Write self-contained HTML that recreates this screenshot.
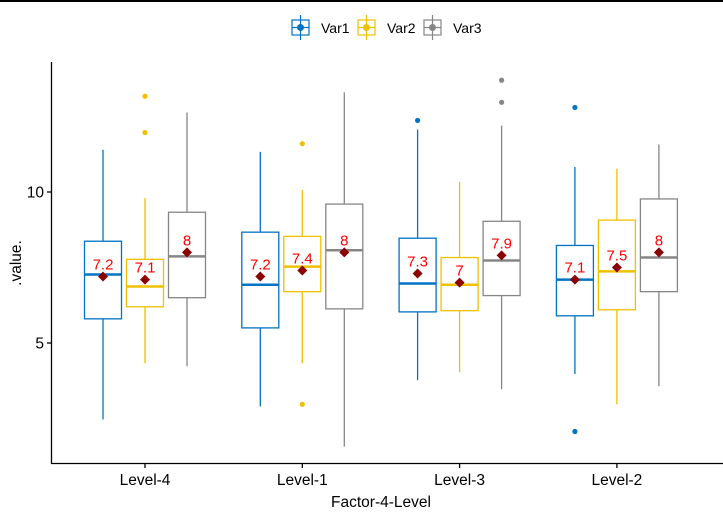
<!DOCTYPE html>
<html><head><meta charset="utf-8"><style>
body{margin:0;background:#fff;}
svg{display:block;font-family:"Liberation Sans",Arial,sans-serif;}
</style></head><body>
<svg id="chart" width="723" height="516">
<rect x="0" y="0" width="723" height="2" fill="#000"/>
<g id="legend"></g>
<g id="plot"></g>
<line x1="51.5" y1="62" x2="51.5" y2="464" stroke="#000" stroke-width="1.3"/>
<line x1="51" y1="463.5" x2="723" y2="463.5" stroke="#000" stroke-width="1.3"/>
<g id="axes"></g>
<text x="21" y="263" transform="rotate(-90 21 263)" text-anchor="middle" font-size="15.5" fill="#000">.value.</text>
<text x="381" y="507" text-anchor="middle" font-size="15.5" fill="#000">Factor-4-Level</text>
</svg>
<script>
const categories=["Level-4","Level-1","Level-3","Level-2"];
const seriesNames=["Var1","Var2","Var3"];
const colors=["#0073C2","#EFC000","#868686"];
// [whiskerLow, q1, median, q3, whiskerHigh] per category per series
const var1Stats=[[2.47,5.8,7.27,8.37,11.4],[2.9,5.5,6.93,8.67,11.33],[3.77,6.03,6.97,8.47,12.07],[3.97,5.9,7.1,8.23,10.83]];
const var2Stats=[[4.33,6.2,6.87,7.77,9.8],[4.33,6.7,7.53,8.53,10.07],[4.03,6.07,6.93,7.83,10.33],[2.97,6.1,7.37,9.07,10.77]];
const var3Stats=[[4.23,6.5,7.87,9.33,12.63],[1.57,6.13,8.07,9.6,13.3],[3.47,6.57,7.73,9.03,12.2],[3.57,6.7,7.83,9.77,11.57]];
const var1Means=[7.2,7.2,7.3,7.1];
const var2Means=[7.1,7.4,7.0,7.5];
const var3Means=[8.0,8.0,7.9,8.0];
const var1Outliers=[[],[],[12.37],[12.8,2.07]];
const var2Outliers=[[13.17,11.97],[11.6,2.97],[],[]];
const var3Outliers=[[],[],[13.7,12.97],[]];
const yTicks=[5,10];

const stats=[var1Stats,var2Stats,var3Stats];
const means=[var1Means,var2Means,var3Means];
const outs=[var1Outliers,var2Outliers,var3Outliers];
const NS="http://www.w3.org/2000/svg";
const y=v=>192+(10-v)*30.2;
const xc=i=>145+i*157.3;
const off=[-42,0,42];
const bw=37;
function mk(t,a,p){const e=document.createElementNS(NS,t);for(const k in a)e.setAttribute(k,a[k]);p.appendChild(e);return e;}
const plot=document.getElementById('plot');
const axes=document.getElementById('axes');
categories.forEach((c,i)=>{
  stats.forEach((s,j)=>{
    const d=s[i],cx=xc(i)+off[j],col=colors[j];
    const g=mk('g',{},plot);
    
    
    mk('line',{x1:cx,x2:cx,y1:y(d[3]),y2:y(d[4]),stroke:col,'stroke-width':1.3},g);
    mk('line',{x1:cx,x2:cx,y1:y(d[1]),y2:y(d[0]),stroke:col,'stroke-width':1.3},g);
    mk('rect',{x:cx-bw/2,y:y(d[3]),width:bw,height:y(d[1])-y(d[3]),fill:'#fff',stroke:col,'stroke-width':1.3},g);
    mk('line',{x1:cx-bw/2,x2:cx+bw/2,y1:y(d[2]),y2:y(d[2]),stroke:col,'stroke-width':2.5},g);
    outs[j][i].forEach(o=>{
      const p=mk('circle',{cx:cx,cy:y(o),r:2.6,fill:col},g);
      
      
    });
    const m=means[j][i],my=y(m);
    const dm=mk('polygon',{points:`${cx},${my-5} ${cx+5},${my} ${cx},${my+5} ${cx-5},${my}`,fill:'#8B0000'},g);
    
    
    const t=mk('text',{x:cx,y:my-7,'text-anchor':'middle','font-size':15,fill:'#FF0000'},g);
    
    
    t.textContent=(Math.round(m*10)/10).toString();
  });
  mk('line',{x1:xc(i),x2:xc(i),y1:464,y2:468,stroke:'#000','stroke-width':1.3},axes);
  const tl=mk('text',{x:xc(i),y:485,'text-anchor':'middle','font-size':15.5,fill:'#000'},axes);
  
  
  tl.textContent=c;
});
yTicks.forEach(v=>{
  mk('line',{x1:47,x2:51,y1:y(v),y2:y(v),stroke:'#000','stroke-width':1.3},axes);
  const t=mk('text',{x:44,y:y(v)+5.5,'text-anchor':'end','font-size':15.5,fill:'#000'},axes);
  
  
  t.textContent=v;
});
const leg=document.getElementById('legend');
const legX=[292,358,424];
seriesNames.forEach((n,j)=>{
  const g=mk('g',{},leg);
  
  
  const col=colors[j],bx=legX[j];
  mk('rect',{x:bx,y:20,width:17,height:15,fill:'#fff',stroke:col,'stroke-width':1.2},g);
  mk('line',{x1:bx+8.5,x2:bx+8.5,y1:15,y2:40,stroke:col,'stroke-width':1.2},g);
  mk('line',{x1:bx,x2:bx+17,y1:27.5,y2:27.5,stroke:col,'stroke-width':1.2},g);
  mk('circle',{cx:bx+8.5,cy:27.5,r:3.5,fill:col},g);
  const t=mk('text',{x:bx+29,y:33,'font-size':14,fill:'#000'},g);
  t.textContent=n;
});
</script>
</body></html>
